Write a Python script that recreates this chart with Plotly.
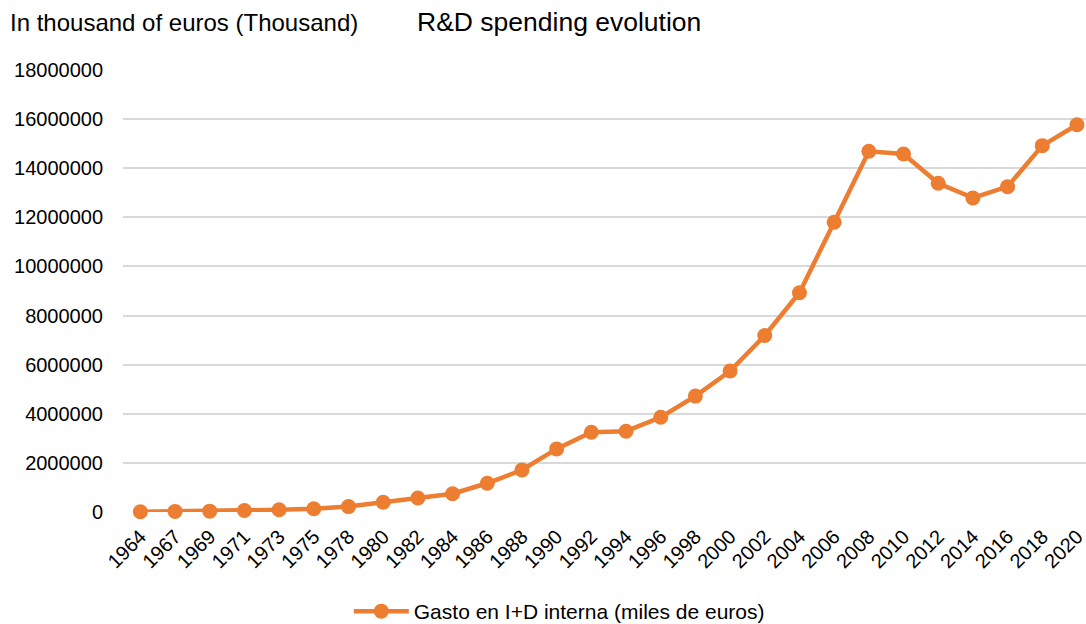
import plotly.graph_objects as go

years = ["1964", "1967", "1969", "1971", "1973", "1975", "1978", "1980", "1982",
         "1984", "1986", "1988", "1990", "1992", "1994", "1996", "1998", "2000",
         "2002", "2004", "2006", "2008", "2010", "2012", "2014", "2016", "2018", "2020"]
spending = [12000, 25000, 35000, 60000, 90000, 130000, 220000, 400000, 570000,
            745000, 1170000, 1710000, 2570000, 3250000, 3290000, 3860000, 4720000, 5740000,
            7190000, 8930000, 11800000, 14690000, 14580000, 13390000, 12790000, 13250000,
            14920000, 15770000]
series_name = "Gasto en I+D interna (miles de euros)"
y_ticks = [0, 2000000, 4000000, 6000000, 8000000, 10000000, 12000000, 14000000, 16000000, 18000000]
title_text = "R&D spending evolution"
unit_text = "In thousand of euros (Thousand)"

ORANGE = "#ED7D31"
FONT = "Liberation Sans, Arial, sans-serif"

fig = go.Figure()
fig.add_trace(go.Scatter(
    x=years, y=spending, mode="lines+markers", name=series_name,
    line=dict(color=ORANGE, width=4.5),
    marker=dict(color=ORANGE, size=15),
    cliponaxis=False,
))

fig.update_layout(
    width=1086, height=624,
    margin=dict(l=123, r=0, t=70, b=112),
    paper_bgcolor="white", plot_bgcolor="white",
    font=dict(family=FONT, color="#000000", size=20),
    showlegend=True,
    legend=dict(orientation="h", xref="container", yref="container",
                x=0.515, xanchor="center", y=0.02, yanchor="middle",
                font=dict(size=21), itemwidth=55, bgcolor="rgba(0,0,0,0)"),
    xaxis=dict(type="category", range=[-0.5, 27.26], tickangle=-45,
               showgrid=False, showline=False, ticks="", zeroline=False,
               tickfont=dict(size=20), ticklabelstandoff=8, fixedrange=True),
    yaxis=dict(range=[0, 18000000], tickvals=y_ticks,
               ticktext=[str(v) for v in y_ticks],
               showgrid=True, gridcolor="#D9D9D9", gridwidth=1.5,
               zeroline=False, showline=False, ticks="",
               tickfont=dict(size=20), ticklabelstandoff=19, fixedrange=True),
    annotations=[
        dict(text=unit_text, xref="paper", yref="paper", x=0, y=1,
             xanchor="left", yanchor="middle", showarrow=False,
             font=dict(size=24), xshift=-115, yshift=48),
        dict(text=title_text, xref="paper", yref="paper", x=0, y=1,
             xanchor="left", yanchor="middle", showarrow=False,
             font=dict(size=26.5), xshift=292, yshift=48),
    ],
)

fig.write_html("out.html")
